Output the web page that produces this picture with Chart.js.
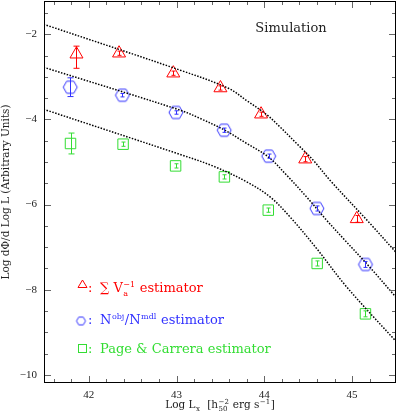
<!DOCTYPE html>
<html>
<head>
<meta charset="utf-8">
<script src="https://cdn.jsdelivr.net/npm/chart.js@4.4.1/dist/chart.umd.min.js"></script>
<style>
  html, body { margin: 0; padding: 0; background: #fff; }
  #wrap { width: 398px; height: 413px; }
</style>
</head>
<body>
<div id="wrap"><canvas id="lf"></canvas></div>
<script>
// tick labels
const xTickLabels = [42, 43, 44, 45];
const yTickLabels = [-10, -8, -6, -4, -2];

// sum 1/Va estimator (triangles)
const triLogL = [41.86, 42.345, 42.963, 43.50, 43.963, 44.466, 45.053];
const triPhi = [-2.47, -2.446, -2.915, -3.263, -3.878, -4.934, -6.336];
const triErrUp = [0.19, 0.05, 0.05, 0.05, 0.05, 0.06, 0.08];
const triErrDown = [0.33, 0.05, 0.05, 0.05, 0.05, 0.06, 0.08];

// Nobj/Nmdl estimator (hexagons)
const hexLogL = [41.789, 42.383, 42.993, 43.542, 44.05, 44.599, 45.152];
const hexPhi = [-3.244, -3.432, -3.838, -4.254, -4.864, -6.092, -7.406];
const hexErr = [0.22, 0.04, 0.04, 0.05, 0.05, 0.06, 0.07];

// Page & Carrera estimator (squares)
const sqLogL = [41.792, 42.391, 42.989, 43.545, 44.045, 44.602, 45.152];
const sqPhi = [-4.566, -4.582, -5.092, -5.35, -6.131, -7.383, -8.566];
const sqErr = [0.245, 0.05, 0.05, 0.05, 0.05, 0.06, 0.07];

// dotted model curves
const topCurveX = [41.485, 43.042, 43.591, 43.8, 44.027, 44.178, 44.368, 44.557, 44.747, 45.201, 45.508];
const topCurveY = [-1.765, -2.845, -3.27, -3.56, -3.89, -4.176, -4.566, -4.958, -5.427, -6.437, -7.141];
const midCurveX = [41.485, 43.042, 43.269, 43.534, 43.8, 44.045, 44.254, 44.481, 44.709, 44.917, 45.201, 45.508];
const midCurveY = [-2.775, -3.784, -3.979, -4.237, -4.566, -4.88, -5.31, -5.82, -6.366, -6.836, -7.469, -8.197];
const lowCurveX = [41.485, 43.042, 43.42, 43.8, 44.065, 44.292, 44.595, 44.94, 45.508];
const lowCurveY = [-3.761, -4.824, -5.099, -5.467, -5.819, -6.289, -7.03, -7.939, -9.23];

const RED = '#ff0000';
const BLUE = '#3030ff';
const GREEN = '#33dd33';
const SERIF = '"DejaVu Serif", serif';

const pts = (xs, ys) => xs.map((x, i) => ({ x: x, y: ys[i] }));

// hexagon marker (pointy left/right), used as a pointStyle image
function hexImage(r, color) {
    const c = document.createElement('canvas');
    const s = Math.ceil(r * 2 + 4);
    c.width = s; c.height = s;
    const g = c.getContext('2d');
    g.strokeStyle = color;
    g.lineWidth = 1;
    g.beginPath();
    for (let k = 0; k < 6; k++) {
        const a = k * Math.PI / 3;
        const px = s / 2 + r * Math.cos(a), py = s / 2 + r * Math.sin(a);
        if (k === 0) g.moveTo(px, py); else g.lineTo(px, py);
    }
    g.closePath();
    g.stroke();
    return c;
}

function curve(xs, ys) {
    return {
        type: 'line',
        data: pts(xs, ys),
        borderColor: '#000',
        borderWidth: 1.5,
        borderDash: [1.5, 1.5],
        pointRadius: 0,
        tension: 0.35,
        fill: false
    };
}

// text with sub/superscripts: parts are strings or {sub, sup}
function drawRich(ctx, x, y, parts, size, color, align) {
    const big = size + 'px ' + SERIF;
    const small = Math.round(size * 0.62) + 'px ' + SERIF;
    const widthOf = p => {
        if (typeof p === 'string') { ctx.font = big; return ctx.measureText(p).width; }
        ctx.font = small;
        return Math.max(p.sub ? ctx.measureText(p.sub).width : 0, p.sup ? ctx.measureText(p.sup).width : 0) + 1;
    };
    const total = parts.reduce((s, p) => s + widthOf(p), 0);
    let cx = align === 'center' ? x - total / 2 : x;
    ctx.fillStyle = color;
    ctx.textAlign = 'left';
    ctx.textBaseline = 'alphabetic';
    parts.forEach(p => {
        const w = widthOf(p);
        if (typeof p === 'string') {
            ctx.font = big;
            ctx.fillText(p, cx, y);
        } else {
            ctx.font = small;
            if (p.sub) ctx.fillText(p.sub, cx + 0.5, y + size * 0.3);
            if (p.sup) ctx.fillText(p.sup, cx + 0.5, y - size * 0.42);
        }
        cx += w;
    });
}

const frameAndTicks = {
    id: 'frameAndTicks',
    afterDraw(chart) {
        const { ctx, chartArea: a, scales: { x, y } } = chart;
        ctx.save();
        ctx.strokeStyle = '#666';
        ctx.lineWidth = 1;
        ctx.beginPath();
        for (let i = 1; i < 20; i++) {
            const v = 41.4 + i * 0.2;
            if (v > 45.5) break;
            const px = Math.round(x.getPixelForValue(v)) + 0.5;
            const len = Math.abs(v - Math.round(v)) < 0.01 ? 7 : 4;
            ctx.moveTo(px, a.bottom); ctx.lineTo(px, a.bottom - len);
            ctx.moveTo(px, a.top); ctx.lineTo(px, a.top + len);
        }
        for (let i = 0; i < 18; i++) {
            const v = -10 + i * 0.5;
            const py = Math.round(y.getPixelForValue(v)) + 0.5;
            const len = yTickLabels.includes(v) ? 7 : 4;
            ctx.moveTo(a.left, py); ctx.lineTo(a.left + len, py);
            ctx.moveTo(a.right, py); ctx.lineTo(a.right - len, py);
        }
        ctx.stroke();
        ctx.strokeStyle = '#000';
        ctx.strokeRect(a.left + 0.5, a.top + 0.5, a.width - 1, a.height - 1);

        // x axis title
        drawRich(ctx, (a.left + a.right) / 2, 408,
            ['Log L', { sub: 'x' }, '  [h', { sub: '50', sup: '\u22122' }, ' erg s', { sup: '\u22121' }, ']'],
            10.5, '#222', 'center');

        // label in the corner
        ctx.font = '13px ' + SERIF;
        ctx.fillStyle = '#222';
        ctx.textAlign = 'center';
        ctx.fillText('Simulation', 291, 32);

        // legend
        ctx.lineWidth = 1;
        ctx.strokeStyle = RED;
        ctx.beginPath();
        ctx.moveTo(82.5, 280); ctx.lineTo(87, 287.5); ctx.lineTo(78, 287.5); ctx.closePath();
        ctx.stroke();
        drawRich(ctx, 88, 292, [':'], 13, RED, 'left');
        drawRich(ctx, 100, 292, ['\u2211 V', { sub: 'a', sup: '\u22121' }, ' estimator'], 13, RED, 'left');

        ctx.drawImage(hexImage(4.5, BLUE), 81 - 6.5, 321 - 6.5);
        drawRich(ctx, 88, 324, [':'], 13, BLUE, 'left');
        drawRich(ctx, 100, 324, ['N', { sup: 'obj' }, '/N', { sup: 'mdl' }, ' estimator'], 13, BLUE, 'left');

        ctx.strokeStyle = GREEN;
        ctx.strokeRect(78.5, 344.5, 8, 8);
        drawRich(ctx, 88, 353, [':'], 13, GREEN, 'left');
        drawRich(ctx, 100, 353, ['Page & Carrera estimator'], 13, GREEN, 'left');
        ctx.restore();
    }
};

const errorBars = {
    id: 'errorBars',
    afterDatasetsDraw(chart) {
        const { ctx, scales: { y } } = chart;
        ctx.save();
        chart.data.datasets.forEach((ds, di) => {
            if (!ds.errUp) return;
            const meta = chart.getDatasetMeta(di);
            ctx.strokeStyle = ds.borderColor;
            ctx.lineWidth = 1;
            meta.data.forEach((el, i) => {
                const v = ds.data[i].y;
                const y1 = y.getPixelForValue(v + ds.errUp[i]);
                const y2 = y.getPixelForValue(v - ds.errDown[i]);
                const cap = i === 0 ? 3 : 2;
                const px = Math.round(el.x) + 0.5;
                ctx.beginPath();
                ctx.moveTo(px, y1); ctx.lineTo(px, y2);
                ctx.moveTo(px - cap, y1); ctx.lineTo(px + cap, y1);
                ctx.moveTo(px - cap, y2); ctx.lineTo(px + cap, y2);
                ctx.stroke();
            });
        });
        ctx.restore();
    }
};

new Chart(document.getElementById('lf'), {
    type: 'scatter',
    data: {
        datasets: [
            curve(topCurveX, topCurveY),
            curve(midCurveX, midCurveY),
            curve(lowCurveX, lowCurveY),
            {
                data: pts(triLogL, triPhi), errUp: triErrUp, errDown: triErrDown,
                pointStyle: 'triangle', pointRadius: 7.5, borderColor: RED, borderWidth: 1,
                backgroundColor: 'rgba(0,0,0,0)'
            },
            {
                data: pts(hexLogL, hexPhi), errUp: hexErr, errDown: hexErr,
                pointStyle: hexImage(7, BLUE), borderColor: BLUE, backgroundColor: 'rgba(0,0,0,0)'
            },
            {
                data: pts(sqLogL, sqPhi), errUp: sqErr, errDown: sqErr,
                pointStyle: 'rect', pointRadius: 7.4, borderColor: GREEN, borderWidth: 1,
                backgroundColor: 'rgba(0,0,0,0)'
            }
        ]
    },
    options: {
        responsive: true,
        maintainAspectRatio: false,
        animation: false,
        layout: { autoPadding: false, padding: { top: 1, right: 2, left: 0, bottom: 0 } },
        plugins: { legend: { display: false }, tooltip: { enabled: false } },
        scales: {
            x: {
                type: 'linear', min: 41.49, max: 45.5,
                afterBuildTicks: s => { s.ticks = xTickLabels.map(v => ({ value: v })); },
                afterFit: s => { s.height = 30; s.paddingLeft = 0; s.paddingRight = 0; },
                grid: { display: false, drawTicks: false },
                border: { display: false },
                ticks: { color: '#222', padding: 6, maxRotation: 0, font: { family: 'Liberation Serif', size: 11 } }
            },
            y: {
                min: -10.19, max: -1.22,
                afterBuildTicks: s => { s.ticks = yTickLabels.map(v => ({ value: v })); },
                afterFit: s => { s.width = 44; s.paddingTop = 0; s.paddingBottom = 0; },
                grid: { display: false, drawTicks: false },
                border: { display: false },
                ticks: {
                    color: '#222', padding: 7, font: { family: 'Liberation Serif', size: 11 },
                    callback: v => (v < 0 ? '\u2212' + Math.abs(v) : '' + v)
                },
                title: {
                    display: true, text: 'Log d\u03a6/d Log L (Arbitrary Units)', color: '#222',
                    padding: 0, font: { family: 'DejaVu Serif', size: 10.5 }
                }
            }
        }
    },
    plugins: [errorBars, frameAndTicks]
});
</script>
</body>
</html>
